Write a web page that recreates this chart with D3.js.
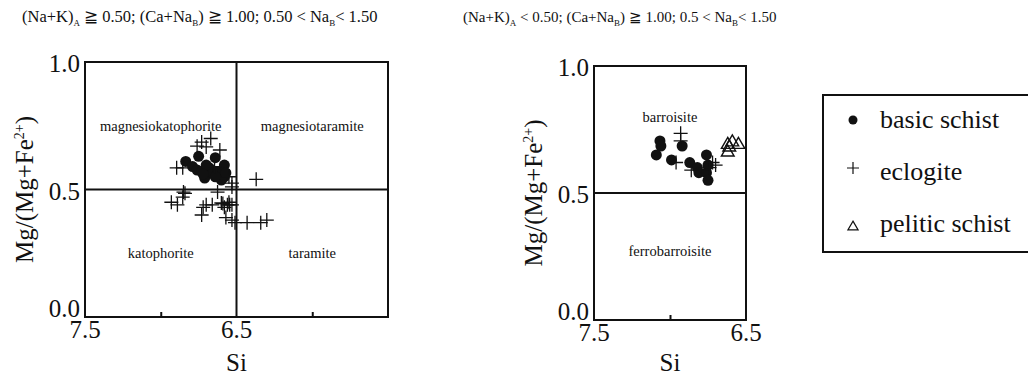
<!DOCTYPE html>
<html>
<head>
<meta charset="utf-8">
<script src="https://cdnjs.cloudflare.com/ajax/libs/d3/7.8.5/d3.min.js"></script>
<style>
  body { margin: 0; background: #fff; }
</style>
</head>
<body>
<div id="svg"></div>
<script>
// data: [Si, Mg/(Mg+Fe2+)]
var leftBasic = [[6.835, 0.61], [6.75, 0.63], [6.64, 0.625], [6.79, 0.59], [6.76, 0.576],
    [6.73, 0.57], [6.71, 0.545], [6.68, 0.585], [6.66, 0.565], [6.625, 0.57], [6.59, 0.576],
    [6.58, 0.596], [6.58, 0.55], [6.60, 0.537], [6.70, 0.596], [6.72, 0.56], [6.64, 0.55],
    [6.57, 0.565]];
var leftEclogite = [[6.76, 0.67], [6.73, 0.686], [6.67, 0.70], [6.70, 0.667], [6.61, 0.655],
    [6.895, 0.585], [6.855, 0.585], [6.645, 0.59], [6.55, 0.55], [6.53, 0.51], [6.37, 0.54],
    [6.93, 0.45], [6.89, 0.44], [6.855, 0.47], [6.84, 0.485], [6.85, 0.49], [6.72, 0.43],
    [6.73, 0.40], [6.70, 0.44], [6.66, 0.44], [6.625, 0.49], [6.60, 0.447], [6.58, 0.43],
    [6.56, 0.44], [6.545, 0.44], [6.53, 0.44], [6.57, 0.39], [6.53, 0.38], [6.51, 0.37],
    [6.43, 0.37], [6.34, 0.37], [6.30, 0.38], [6.53, 0.525], [6.59, 0.445], [6.55, 0.45]];
var rightBasic = [[7.066, 0.705], [7.06, 0.685], [7.09, 0.65], [6.92, 0.685], [6.99, 0.63],
    [6.87, 0.62], [6.82, 0.60], [6.81, 0.58], [6.76, 0.65], [6.76, 0.58], [6.75, 0.55],
    [6.75, 0.61]];
var rightEclogite = [[6.93, 0.735], [6.93, 0.705], [6.96, 0.62], [6.72, 0.62], [6.70, 0.61],
    [6.74, 0.60], [6.86, 0.59]];
var rightPelitic = [[6.62, 0.69], [6.59, 0.70], [6.55, 0.69], [6.62, 0.66], [6.61, 0.68]];

var leftFields = [["magnesiokatophorite", 7.0, 0.75], ["magnesiotaramite", 6.0, 0.75],
    ["katophorite", 7.0, 0.25], ["taramite", 6.0, 0.25]];
var rightFields = [["barroisite", 7.0, 0.8], ["ferrobarroisite", 7.0, 0.27]];
var legendNames = ["basic schist", "eclogite", "pelitic schist"];
var yTicks = [0, 0.5, 1.0];

var svg = d3.select("#svg").append("svg")
    .attr("width", 1028)
    .attr("height", 376)
    .attr("font-family", "'Liberation Serif', 'DejaVu Serif', serif")
    .style("font-family", "'Liberation Serif', 'DejaVu Serif', serif");

// titles
function title(x, size, parts) {
    var t = svg.append("text").attr("x", x).attr("y", 22).style("font-size", size + "px").attr("fill", "#111");
    parts.forEach(function(p) {
        var s = t.append("tspan").text(p[0]);
        if (p[1]) s.attr("dy", 4).style("font-size", "9px");
        else s.attr("dy", p[2] || 0);
    });
}
title(22, 16.5, [["(Na+K)"], ["A", 1], [" \u2267 0.50; (Ca+Na", 0, -4], ["B", 1], [") \u2267 1.00; 0.50 < Na", 0, -4], ["B", 1], ["< 1.50", 0, -4]]);
title(463, 15, [["(Na+K)"], ["A", 1], [" < 0.50; (Ca+Na", 0, -4], ["B", 1], [") \u2267 1.00; 0.5 < Na", 0, -4], ["B", 1], ["< 1.50", 0, -4]]);

function panel(opt) {
    var x = d3.scaleLinear().domain(opt.xDomain).range([opt.left, opt.right]);
    var y = d3.scaleLinear().domain([0, 1]).range([opt.bottom, opt.top]);
    var g = svg.append("g").attr("fill", "#111");

    // frame
    g.append("rect")
        .attr("x", x.range()[0]).attr("y", y(1))
        .attr("width", x.range()[1] - x.range()[0]).attr("height", y(0) - y(1))
        .attr("fill", "none").attr("stroke", "#111").attr("stroke-width", 2);

    // field boundaries
    g.append("line").attr("x1", x.range()[0]).attr("x2", x.range()[1])
        .attr("y1", y(0.5)).attr("y2", y(0.5))
        .attr("stroke", "#111").attr("stroke-width", 2);
    if (opt.vline) {
        g.append("line").attr("x1", x(opt.vline)).attr("x2", x(opt.vline))
            .attr("y1", y(0)).attr("y2", y(1))
            .attr("stroke", "#111").attr("stroke-width", 2);
    }

    // x ticks (inward) and labels
    g.append("g").attr("transform", "translate(0," + y(0) + ")")
        .call(d3.axisTop(x).tickValues(opt.ticks).tickSize(5).tickFormat(""))
        .call(function(a) { a.select(".domain").remove(); a.selectAll("line").attr("stroke", "#111").attr("stroke-width", 2); });
    g.selectAll(".xl").data(opt.xLabels).enter().append("text")
        .attr("x", function(d) { return x(d); })
        .attr("y", y(0) + 21)
        .attr("text-anchor", "middle")
        .style("font-size", "25px")
        .text(function(d) { return d3.format(".1f")(d); });

    // y labels
    g.selectAll(".yl").data(yTicks).enter().append("text")
        .attr("x", x.range()[0] - 5)
        .attr("y", function(d) { return y(d) + (d === 0 ? 0 : 10); })
        .attr("text-anchor", "end")
        .style("font-size", "25px")
        .text(function(d) { return d3.format(".1f")(d); });

    // axis titles
    g.append("text")
        .attr("x", (x.range()[0] + x.range()[1]) / 2).attr("y", 371)
        .attr("text-anchor", "middle").style("font-size", "25px").text("Si");
    var yl = g.append("text")
        .attr("transform", "translate(" + (x.range()[0] - 52) + "," + y(0.5) + ") rotate(-90)")
        .attr("text-anchor", "middle").style("font-size", "25px");
    yl.append("tspan").text("Mg/(Mg+Fe");
    yl.append("tspan").attr("dy", -9).style("font-size", "14px").text("2+");
    yl.append("tspan").attr("dy", 9).text(")");

    // field names
    g.selectAll(".fl").data(opt.fields).enter().append("text")
        .attr("x", function(d) { return x(d[1]); })
        .attr("y", function(d) { return y(d[2]) + 5; })
        .attr("text-anchor", "middle")
        .style("font-size", "14.5px")
        .text(function(d) { return d[0]; });

    // points
    g.selectAll(".dot").data(opt.basic).enter().append("circle")
        .attr("cx", function(d) { return x(d[0]); })
        .attr("cy", function(d) { return y(d[1]); })
        .attr("r", 5.5).attr("fill", "#111");
    g.selectAll(".plus").data(opt.eclogite).enter().append("path")
        .attr("d", function(d) {
            var px = x(d[0]), py = y(d[1]);
            return "M" + (px - 7) + "," + py + "H" + (px + 7) + "M" + px + "," + (py - 7) + "V" + (py + 7);
        })
        .attr("stroke", "#111").attr("stroke-width", 1.3).attr("fill", "none");
    g.selectAll(".tri").data(opt.pelitic || []).enter().append("path")
        .attr("transform", function(d) { return "translate(" + x(d[0]) + "," + y(d[1]) + ")"; })
        .attr("d", d3.symbol().type(d3.symbolTriangle).size(70))
        .attr("stroke", "#111").attr("stroke-width", 1.4).attr("fill", "none");
}

panel({ xDomain: [7.5, 5.5], left: 85, right: 388, top: 62, bottom: 317,
    vline: 6.5, ticks: [7.0, 6.0], xLabels: [7.5, 6.5], fields: leftFields,
    basic: leftBasic, eclogite: leftEclogite });
panel({ xDomain: [7.5, 6.5], left: 594, right: 746, top: 66, bottom: 320,
    ticks: [7.0], xLabels: [7.5, 6.5], fields: rightFields,
    basic: rightBasic, eclogite: rightEclogite, pelitic: rightPelitic });

// legend
var leg = svg.append("g").attr("fill", "#111");
leg.append("rect").attr("x", 823).attr("y", 95).attr("width", 220).attr("height", 157)
    .attr("fill", "none").attr("stroke", "#111").attr("stroke-width", 2);
var ly = d3.scalePoint().domain(legendNames).range([120, 224]);
leg.append("circle").attr("cx", 853).attr("cy", ly("basic schist")).attr("r", 4.5).attr("fill", "#111");
leg.append("path").attr("d", "M847," + (ly("eclogite") - 4) + "H859M853," + (ly("eclogite") - 10) + "V" + (ly("eclogite") + 2))
    .attr("stroke", "#111").attr("stroke-width", 1.2);
leg.append("path").attr("transform", "translate(853," + (ly("pelitic schist") + 3) + ")")
    .attr("d", d3.symbol().type(d3.symbolTriangle).size(45))
    .attr("stroke", "#111").attr("stroke-width", 1.2).attr("fill", "none");
leg.selectAll(".lt").data(legendNames).enter().append("text")
    .attr("x", 880)
    .attr("y", function(d) { return ly(d) + 8; })
    .style("font-size", "26px")
    .text(function(d) { return d; });
</script>
</body>
</html>
